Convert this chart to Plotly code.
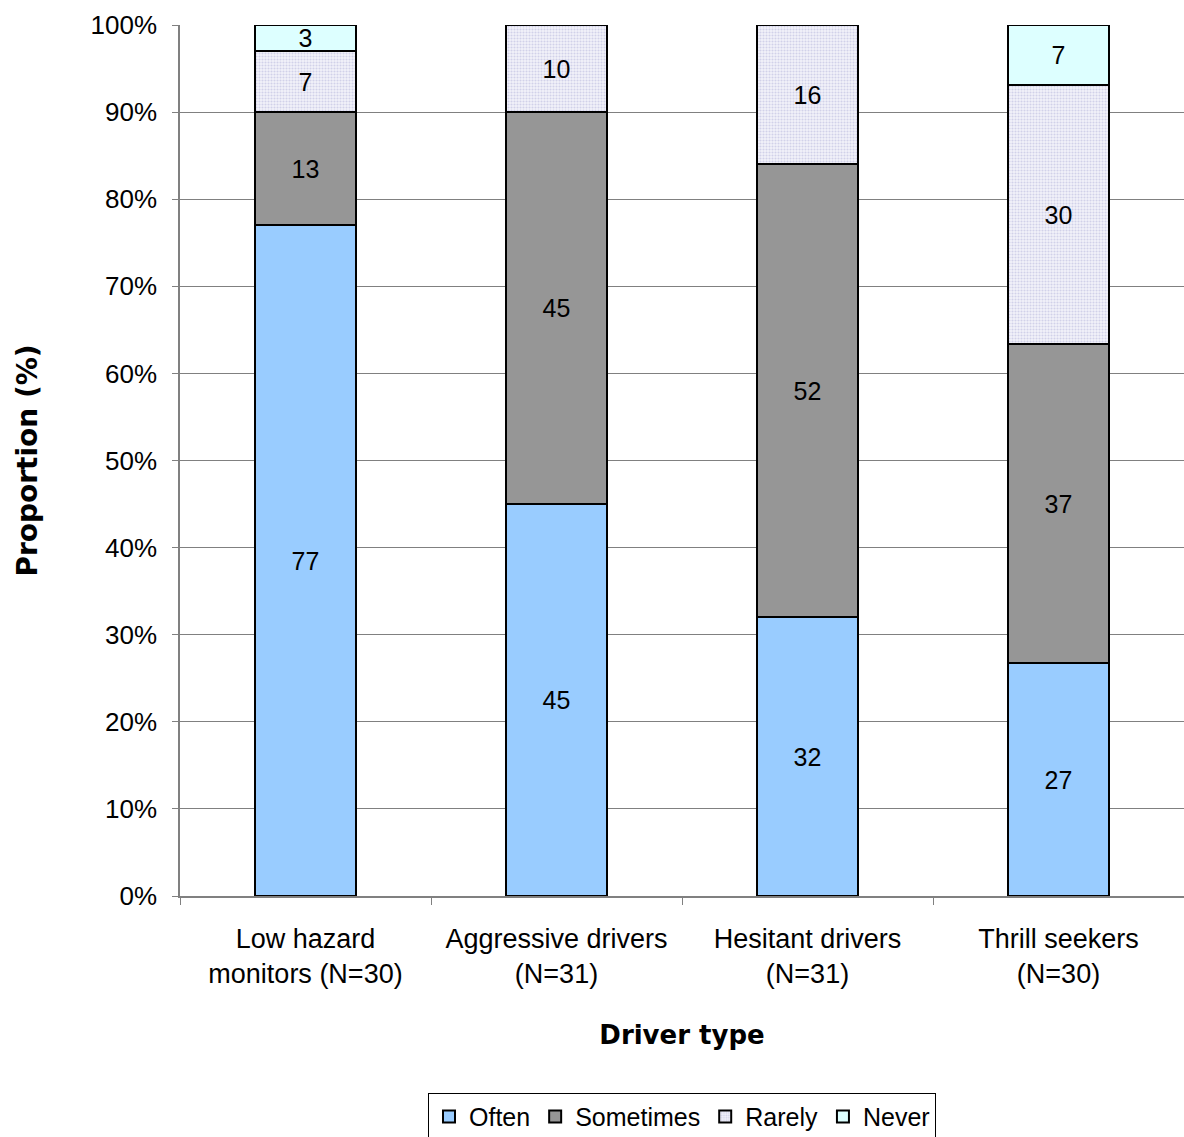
import plotly.graph_objects as go

# Driver types and response proportions (%) per frequency category
categories = ["Low hazard<br>monitors (N=30)", "Aggressive drivers<br>(N=31)",
              "Hesitant drivers<br>(N=31)", "Thrill seekers<br>(N=30)"]
often = [77, 45, 32, 27]
sometimes = [13, 45, 52, 37]
rarely = [7, 10, 16, 30]
never = [3, None, None, 7]

y_ticks = [0, 10, 20, 30, 40, 50, 60, 70, 80, 90, 100]

series = [
    ("Often", often, dict(color="#99CCFF")),
    ("Sometimes", sometimes, dict(color="#969696")),
    ("Rarely", rarely, dict(color="#F2F2FA",
                            pattern=dict(shape=".", fgcolor="#B0B0D8",
                                         bgcolor="#F2F2FA", size=3, solidity=0.4))),
    ("Never", never, dict(color="#DDFFFF")),
]

fig = go.Figure()
for name, vals, mk in series:
    fig.add_trace(go.Bar(
        name=name,
        x=categories,
        y=vals,
        text=["" if v is None else str(v) for v in vals],
        textposition="inside",
        insidetextanchor="middle",
        textangle=0,
        textfont=dict(family="Liberation Sans, Arial", size=25, color="black"),
        marker=dict(**mk, line=dict(color="black", width=2)),
    ))

fig.update_layout(
    barmode="stack",
    barnorm="percent",
    bargap=0.6,
    width=1184,
    height=1137,
    margin=dict(l=180, r=0, t=25, b=241, autoexpand=False),
    paper_bgcolor="white",
    plot_bgcolor="white",
    font=dict(family="Liberation Sans, Arial", size=25, color="black"),
    uniformtext=dict(minsize=25, mode="show"),
    legend=dict(
        orientation="h",
        x=0.5, xanchor="center",
        y=-0.226, yanchor="top",
        bordercolor="black", borderwidth=1,
        font=dict(family="Liberation Sans, Arial", size=25),
        traceorder="normal",
        itemwidth=30,
    ),
    showlegend=True,
)

fig.update_xaxes(
    showline=True, linecolor="#808080", linewidth=1.5,
    ticks="outside", ticklen=7, tickcolor="#808080", tickson="boundaries",
    ticklabelstandoff=18,
    tickfont=dict(family="Liberation Sans, Arial", size=27),
    title=dict(text="Driver type", standoff=38,
               font=dict(family="DejaVu Sans", size=26, weight="bold")),
)

fig.update_yaxes(
    range=[0, 100],
    tickvals=y_ticks,
    ticktext=[f"{t}%" for t in y_ticks],
    showgrid=True, gridcolor="#808080", gridwidth=1,
    showline=True, linecolor="#808080", linewidth=1.5,
    ticks="outside", ticklen=6, tickcolor="#808080",
    ticklabelstandoff=10,
    tickfont=dict(family="Liberation Sans, Arial", size=26),
    title=dict(text="Proportion (%)", standoff=45,
               font=dict(family="DejaVu Sans", size=28, weight="bold")),
)

fig.write_html("out.html")
